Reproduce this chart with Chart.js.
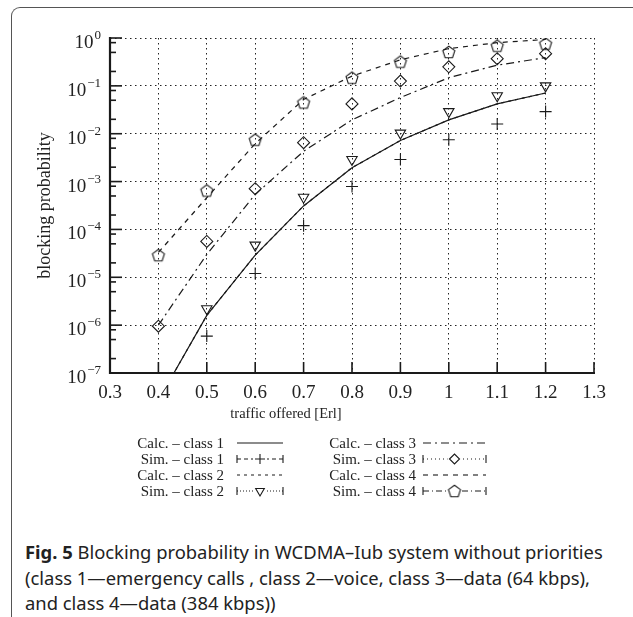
<!DOCTYPE html>
<html>
<head>
<meta charset="utf-8">
<script src="https://cdn.jsdelivr.net/npm/chart.js@4.4.1/dist/chart.umd.min.js"></script>
<style>
  body { margin: 0; background: #fff; }
  #wrap { position: relative; width: 633px; height: 617px; overflow: hidden; }
  #card {
    position: absolute; left: 11px; top: 7px; width: 700px; height: 700px;
    border-top: 1.5px solid #555; border-left: 1.5px solid #555;
    border-top-left-radius: 9px;
  }
  #plot { position: absolute; left: 0; top: 0; }
  #caption {
    position: absolute; left: 25px; top: 539px; width: 610px; white-space: nowrap;
    font-family: 'Noto Sans', sans-serif; font-size: 18.4px; line-height: 25.5px;
    color: #222;
  }
</style>
</head>
<body>
<div id="wrap">
  <div id="card"></div>
  <canvas id="plot" width="633" height="530"></canvas>
  <div id="caption"><b>Fig. 5</b> Blocking probability in WCDMA–Iub system without priorities<br>(class 1—emergency calls , class 2—voice, class 3—data (64 kbps),<br>and class 4—data (384 kbps))</div>
</div>
<script>
let traffic = [0.4, 0.5, 0.6, 0.7, 0.8, 0.9, 1.0, 1.1, 1.2]

let calcClass1 = [2.7e-8, 1.6e-6, 2.9e-5, 3.1e-4, 1.95e-3, 7.2e-3, 0.0195, 0.042, 0.071]
let calcClass2 = [2.7e-8, 1.6e-6, 2.9e-5, 3.1e-4, 1.95e-3, 7.2e-3, 0.0195, 0.042, 0.071]
let calcClass3 = [1.0e-6, 3.0e-5, 5.4e-4, 4.3e-3, 0.0195, 0.057, 0.148, 0.27, 0.39]
let calcClass4 = [3.3e-5, 4.6e-4, 6.2e-3, 0.052, 0.16, 0.35, 0.6, 0.8, 0.93]

let simClass1 = [null, 5.9e-7, 1.2e-5, 1.2e-4, 7.9e-4, 2.9e-3, 7.5e-3, 0.016, 0.029]
let simClass2 = [null, 2.2e-6, 4.7e-5, 4.7e-4, 2.9e-3, 0.0103, 0.029, 0.062, 0.1]
let simClass3 = [9.5e-7, 5.6e-5, 7.1e-4, 6.5e-3, 0.042, 0.126, 0.25, 0.37, 0.47]
let simClass4 = [2.9e-5, 6.5e-4, 7.5e-3, 0.045, 0.148, 0.32, 0.51, 0.69, 0.76]

let xTicks = [0.3, 0.4, 0.5, 0.6, 0.7, 0.8, 0.9, 1, 1.1, 1.2, 1.3]
let xTickLabels = ['0.3', '0.4', '0.5', '0.6', '0.7', '0.8', '0.9', '1', '1.1', '1.2', '1.3']
let yTicks = [1e-7, 1e-6, 1e-5, 1e-4, 1e-3, 1e-2, 1e-1, 1]
let yTickExponents = ['−7', '−6', '−5', '−4', '−3', '−2', '−1', '0']
let yMinorSteps = [2, 5, 8]

let ink = '#1a1a1a'
let serif = '"Liberation Serif", "DejaVu Serif", serif'

function pentagonPath(ctx, x, y, r) {
  ctx.beginPath()
  for (let i = 0; i < 5; i++) {
    let a = -Math.PI / 2 + i * 2 * Math.PI / 5
    let px = x + r * Math.cos(a), py = y + r * Math.sin(a)
    if (i === 0) ctx.moveTo(px, py)
    else ctx.lineTo(px, py)
  }
  ctx.closePath()
}

function makePentagon() {
  let c = document.createElement('canvas')
  c.width = 16
  c.height = 16
  let g = c.getContext('2d')
  g.strokeStyle = ink
  g.lineWidth = 1.1
  pentagonPath(g, 8, 8.6, 6.3)
  g.stroke()
  return c
}
let pentagon = makePentagon()

function toPoints(values) {
  return traffic.map((x, i) => ({x: x, y: values[i]}))
}

function calcSet(label, values, dash) {
  return {
    label: label, data: toPoints(values), showLine: true, borderColor: ink,
    borderWidth: 1.2, borderDash: dash, pointRadius: 0, fill: false, tension: 0,
  }
}

function simSet(label, values, style, rotation) {
  return {
    label: label, data: toPoints(values), showLine: false, borderColor: ink,
    backgroundColor: 'transparent', pointStyle: style, pointRotation: rotation || 0,
    pointRadius: 6, pointBorderWidth: 1.1,
  }
}

let datasets = [
  calcSet('Calc. – class 2', calcClass2, [3, 4]),
  calcSet('Calc. – class 1', calcClass1, []),
  calcSet('Calc. – class 3', calcClass3, [8, 4, 2, 4]),
  calcSet('Calc. – class 4', calcClass4, [5, 5]),
  simSet('Sim. – class 1', simClass1, 'cross'),
  simSet('Sim. – class 2', simClass2, 'triangle', 180),
  simSet('Sim. – class 3', simClass3, 'rectRot'),
  simSet('Sim. – class 4', simClass4, pentagon),
]

// legend layout: two columns, four rows
let legendColumns = [
  ['Calc. – class 1', 'Sim. – class 1', 'Calc. – class 2', 'Sim. – class 2'],
  ['Calc. – class 3', 'Sim. – class 3', 'Calc. – class 4', 'Sim. – class 4'],
]
let simLegendDash = {
  'Sim. – class 1': [4, 3],
  'Sim. – class 2': [1, 2],
  'Sim. – class 3': [1, 3],
  'Sim. – class 4': [6, 3, 1, 3],
}

function seg(ctx, x1, y1, x2, y2) {
  ctx.beginPath()
  ctx.moveTo(x1, y1)
  ctx.lineTo(x2, y2)
  ctx.stroke()
}

let overlay = {
  id: 'overlay',
  afterDraw(chart) {
    let ctx = chart.ctx
    let xs = chart.scales.x, ys = chart.scales.y
    let area = chart.chartArea
    ctx.save()
    ctx.strokeStyle = ink
    ctx.fillStyle = '#222'
    ctx.setLineDash([])

    // solid axes on the left and bottom
    ctx.lineWidth = 2.2
    ctx.beginPath()
    ctx.moveTo(area.left, area.top - 1)
    ctx.lineTo(area.left, area.bottom)
    ctx.lineTo(area.right + 1, area.bottom)
    ctx.stroke()

    // inward tick marks
    ctx.lineWidth = 1.6
    for (let i = 0; i < yTicks.length; i++) {
      let y = ys.getPixelForValue(yTicks[i])
      seg(ctx, area.left, y, area.left + 12, y)
      if (i < yTicks.length - 1) {
        for (let m of yMinorSteps) {
          let yy = ys.getPixelForValue(yTicks[i] * m)
          seg(ctx, area.left, yy, area.left + 6, yy)
        }
      }
    }
    for (let t of xTicks) {
      let x = xs.getPixelForValue(t)
      seg(ctx, x, area.bottom, x, area.bottom - 11)
    }

    // y tick labels 10^n
    for (let i = 0; i < yTicks.length; i++) {
      let y = ys.getPixelForValue(yTicks[i])
      ctx.font = '13px ' + serif
      ctx.textAlign = 'right'
      ctx.textBaseline = 'alphabetic'
      let right = area.left - 9
      ctx.fillText(yTickExponents[i], right, y + 1)
      let ew = ctx.measureText(yTickExponents[i]).width
      ctx.font = '19px ' + serif
      ctx.fillText('10', right - ew - 1, y + 10)
    }

    // x tick labels
    ctx.font = '19px ' + serif
    ctx.textAlign = 'center'
    for (let i = 0; i < xTicks.length; i++) {
      ctx.fillText(xTickLabels[i], xs.getPixelForValue(xTicks[i]), area.bottom + 25)
    }

    // axis titles
    ctx.font = '14.5px ' + serif
    ctx.fillText('traffic offered [Erl]', 286, 418)
    ctx.save()
    ctx.translate(50, (area.top + area.bottom) / 2)
    ctx.rotate(-Math.PI / 2)
    ctx.font = '18px ' + serif
    ctx.fillText('blocking probability', 0, 0)
    ctx.restore()

    // legend
    let colText = [224, 416]
    let colSample = [[237, 283], [423, 486]]
    let rowY = [443, 459, 475, 491]
    ctx.font = '15px ' + serif
    ctx.textAlign = 'right'
    legendColumns.forEach((col, c) => {
      col.forEach((label, r) => {
        let ds = chart.data.datasets.find(d => d.label === label)
        let y = rowY[r]
        ctx.fillStyle = '#222'
        ctx.fillText(label, colText[c], y + 5)
        let [x1, x2] = colSample[c]
        ctx.lineWidth = 1.1
        if (ds.showLine === false) {
          ctx.setLineDash(simLegendDash[label])
          seg(ctx, x1, y, x2, y)
          ctx.setLineDash([])
          seg(ctx, x1, y - 4, x1, y + 4)
          seg(ctx, x2, y - 4, x2, y + 4)
          let cx = (x1 + x2) / 2
          ctx.fillStyle = '#fff'
          ctx.fillRect(cx - 7, y - 7, 14, 14)
          Chart.helpers.drawPoint(ctx, {
            pointStyle: ds.pointStyle, rotation: ds.pointRotation, radius: 5,
            borderWidth: 1.1,
          }, cx, y)
          ctx.strokeStyle = ink
        } else {
          ctx.setLineDash(ds.borderDash)
          seg(ctx, x1, y, x2, y)
          ctx.setLineDash([])
        }
      })
    })
    ctx.restore()
  },
}

let chart = new Chart(document.getElementById('plot'), {
  type: 'scatter',
  data: {datasets: datasets},
  options: {
    responsive: false,
    animation: false,
    layout: {padding: {left: 110, right: 39, top: 38, bottom: 157}},
    plugins: {legend: {display: false}, tooltip: {enabled: false}},
    scales: {
      x: {
        type: 'linear', min: 0.3, max: 1.3,
        afterBuildTicks: s => { s.ticks = xTicks.map(v => ({value: v})) },
        afterFit: s => { s.height = 0 },
        ticks: {display: false},
        grid: {color: '#222', lineWidth: 1, drawTicks: false},
        border: {display: false, dash: [1.5, 3.5]},
      },
      y: {
        type: 'logarithmic', min: 1e-7, max: 1,
        afterBuildTicks: s => { s.ticks = yTicks.map(v => ({value: v})) },
        afterFit: s => { s.width = 0 },
        ticks: {display: false},
        grid: {color: '#222', lineWidth: 1, drawTicks: false},
        border: {display: false, dash: [1.5, 3.5]},
      },
    },
  },
  plugins: [overlay],
})
</script>
</body>
</html>
